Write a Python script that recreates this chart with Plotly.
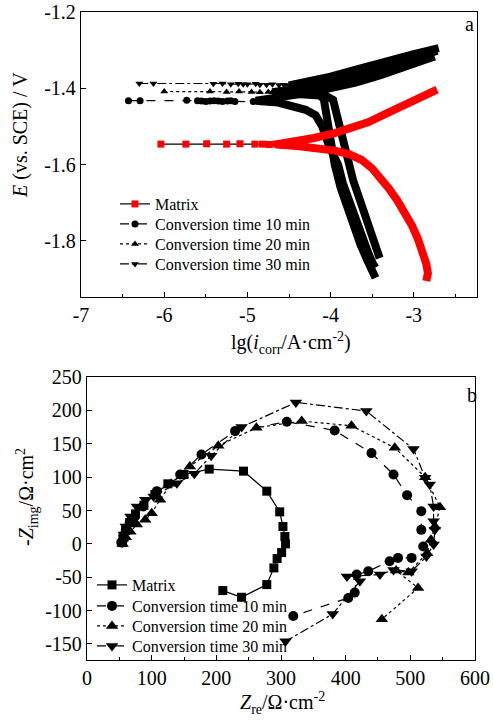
import plotly.graph_objects as go

FONT = "Liberation Serif, Times New Roman, serif"

# ---------------- Panel a : polarisation (Tafel) curves ----------------
# Matrix
m_sp_lg = [-6.04, -5.74, -5.49, -5.25, -5.09, -4.91, -4.82, -4.74, -4.66]
m_sp_E = [-1.546, -1.546, -1.545, -1.546, -1.545, -1.546, -1.546, -1.547, -1.546]
m_an_lg = [-4.66, -4.45, -4.2, -3.95, -3.75, -3.55, -3.37, -3.2, -3.05, -2.92, -2.81, -2.72]
m_an_E = [-1.546, -1.540, -1.530, -1.517, -1.505, -1.489, -1.470, -1.454, -1.439, -1.425, -1.412, -1.403]
m_ca_lg = [-4.66, -4.4, -4.15, -3.95, -3.78, -3.63, -3.5, -3.4, -3.3, -3.2, -3.1, -3.02, -2.95, -2.89, -2.85, -2.83, -2.85]
m_ca_E = [-1.547, -1.551, -1.556, -1.563, -1.572, -1.587, -1.610, -1.635, -1.662, -1.693, -1.727, -1.760, -1.795, -1.830, -1.860, -1.885, -1.905]

# Conversion time 10 min
c10_sp_lg = [-6.43, -6.29, -5.73, -5.60, -5.55, -5.50, -5.45, -5.40, -5.35, -5.30, -5.24, -5.20, -5.15, -4.93, -4.83, -4.73, -4.63]
c10_sp_E = [-1.432, -1.432, -1.431, -1.432, -1.433, -1.434, -1.433, -1.432, -1.433, -1.434, -1.433, -1.432, -1.434, -1.434, -1.435, -1.436, -1.437]
c10_an_lg = [-4.9, -4.6, -4.3, -4.0, -3.7, -3.4, -3.1, -2.9, -2.75]
c10_an_E = [-1.432, -1.424, -1.413, -1.399, -1.385, -1.365, -1.343, -1.328, -1.316]
c10_ca_lg = [-4.63, -4.45, -4.3, -4.18, -4.1, -4.02, -3.96, -3.91, -3.85, -3.77, -3.69, -3.62, -3.55, -3.49, -3.46]
c10_ca_E = [-1.437, -1.446, -1.456, -1.470, -1.50, -1.55, -1.58, -1.60, -1.65, -1.70, -1.75, -1.79, -1.83, -1.86, -1.87]

# Conversion time 20 min
c20_sp_lg = [-6.0, -5.45, -5.25, -5.1, -4.95, -4.85, -4.75, -4.7]
c20_sp_E = [-1.408, -1.408, -1.409, -1.408, -1.409, -1.410, -1.409, -1.410]
c20_an_lg = [-4.7, -4.4, -4.1, -3.8, -3.5, -3.25, -3.0, -2.85, -2.72]
c20_an_E = [-1.410, -1.401, -1.391, -1.375, -1.357, -1.339, -1.322, -1.311, -1.301]
c20_ca_lg = [-4.7, -4.3, -4.05, -3.97, -3.89, -3.81, -3.73, -3.64, -3.54, -3.46, -3.41]
c20_ca_E = [-1.410, -1.415, -1.420, -1.43, -1.50, -1.57, -1.64, -1.70, -1.76, -1.815, -1.845]

# Conversion time 30 min
c30_sp_lg = [-6.30, -6.13, -5.41, -5.30, -5.20, -5.11, -5.05, -5.00, -4.90, -4.85, -4.77, -4.70, -4.62, -4.56, -4.50]
c30_sp_E = [-1.387, -1.387, -1.388, -1.387, -1.389, -1.388, -1.389, -1.389, -1.388, -1.390, -1.390, -1.389, -1.391, -1.390, -1.392]
c30_an_lg = [-4.5, -4.2, -4.0, -3.75, -3.5, -3.25, -3.0, -2.85, -2.70]
c30_an_E = [-1.391, -1.380, -1.369, -1.354, -1.338, -1.322, -1.310, -1.302, -1.294]
c30_ca_lg = [-4.5, -4.3, -4.15, -4.08, -4.04, -4.0, -3.95, -3.88, -3.80, -3.72, -3.64, -3.56, -3.49, -3.46]
c30_ca_E = [-1.392, -1.398, -1.408, -1.43, -1.48, -1.54, -1.60, -1.66, -1.71, -1.76, -1.81, -1.85, -1.88, -1.897]

a_xticks = [-7, -6, -5, -4, -3]
a_xlabels = ["-7", "-6", "-5", "-4", "-3"]
a_yticks = [-1.2, -1.4, -1.6, -1.8]
a_ylabels = ["-1.2", "-1.4", "-1.6", "-1.8"]

# ---------------- Panel b : Nyquist plots ----------------
mat_zre = [55, 57, 60, 66, 75, 88, 105, 125, 150, 189, 242, 278, 298, 303, 306, 307, 301, 294, 289, 278, 239, 210]
mat_zim = [2, 10, 20, 32, 45, 58, 74, 90, 104, 112, 109, 79, 48, 26, 11, 0, -13, -22, -36, -61, -80, -70]
t10_zre = [53, 56, 60, 66, 74, 87, 108, 144, 177, 229, 309, 383, 440, 474, 495, 517, 517, 520, 502, 481, 468, 435, 417, 414, 404, 319]
t10_zim = [2, 12, 22, 32, 41, 56, 79, 104, 134, 169, 183, 170, 136, 104, 73, 49, 21, -4, -21, -21, -26, -41, -46, -73, -81, -108]
t20_zre = [55, 60, 67, 77, 90, 100, 113, 130, 159, 203, 262, 332, 409, 476, 523, 546, 538, 532, 526, 497, 478, 512, 456]
t20_zim = [0, 10, 18, 29, 36, 46, 66, 90, 116, 147, 174, 184, 177, 144, 100, 55, 26, 6, -14, -43, -40, -66, -113]
t30_zre = [55, 57, 60, 67, 77, 90, 103, 139, 166, 192, 239, 323, 432, 505, 523, 530, 536, 536, 538, 536, 525, 502, 474, 453, 402, 422, 380, 307]
t30_zim = [2, 14, 26, 41, 56, 66, 71, 91, 105, 132, 175, 212, 199, 142, 99, 89, 56, 34, 21, -1, -19, -41, -39, -46, -49, -56, -105, -146]

b_yticks = [-150, -100, -50, 0, 50, 100, 150, 200, 250]
b_ylabels = ["-150", "-100", "-50", "0", "50", "100", "150", "200", "250"]

series_a = [
    ("Matrix", m_sp_lg, m_sp_E, m_an_lg, m_an_E, m_ca_lg, m_ca_E, "square", "red", "solid"),
    ("Conversion time 10 min", c10_sp_lg, c10_sp_E, c10_an_lg, c10_an_E, c10_ca_lg, c10_ca_E, "circle", "black", "dash"),
    ("Conversion time 20 min", c20_sp_lg, c20_sp_E, c20_an_lg, c20_an_E, c20_ca_lg, c20_ca_E, "triangle-up", "black", "dot"),
    ("Conversion time 30 min", c30_sp_lg, c30_sp_E, c30_an_lg, c30_an_E, c30_ca_lg, c30_ca_E, "triangle-down", "black", "dashdot"),
]

# page body margin is removed (see write_html below), so positions are page pixels
W, H = 493, 720
def px(v):
    return v / W
def py(v):
    return 1 - v / H

fig = go.Figure()

# thick dense branches: black first, red on top
for s in series_a[1:] + series_a[:1]:
    name, sx, sy, ax_, ay_, cx_, cy_, sym, col, dash = s
    bx = list(reversed(cx_)) + list(ax_)
    by = list(reversed(cy_)) + list(ay_)
    fig.add_trace(go.Scatter(x=bx, y=by, mode="lines", line=dict(color=col, width=8),
                             showlegend=False, hoverinfo="skip", xaxis="x", yaxis="y"))

legend_font = dict(family=FONT, size=16, color="black")
legend_layout = {}
top_centres = [204, 224, 244, 264]
for i, s in enumerate(series_a):
    name, sx, sy, ax_, ay_, cx_, cy_, sym, col, dash = s
    lg_id = "legend" if i == 0 else "legend%d" % (i + 1)
    fig.add_trace(go.Scatter(x=sx, y=sy, mode="lines+markers", name=name,
                             line=dict(color="black", width=1.2, dash=dash),
                             marker=dict(symbol=sym, size=7, color=col, line=dict(width=0)),
                             xaxis="x", yaxis="y", legend=lg_id))
    legend_layout[lg_id] = dict(x=px(115), y=py(top_centres[i] - 17), xanchor="left", yanchor="top",
                                bgcolor="rgba(0,0,0,0)", borderwidth=0, font=legend_font)

series_b = [
    ("Matrix", mat_zre, mat_zim, "square", "solid", 9),
    ("Conversion time 10 min", t10_zre, t10_zim, "circle", "dash", 10),
    ("Conversion time 20 min", t20_zre, t20_zim, "triangle-up", "dot", 11),
    ("Conversion time 30 min", t30_zre, t30_zim, "triangle-down", "dashdot", 11),
]
bot_centres = [585, 606, 626, 646]
for i, (name, zx, zy, sym, dash, ms) in enumerate(series_b):
    lg_id = "legend%d" % (i + 5)
    fig.add_trace(go.Scatter(x=zx, y=zy, mode="lines+markers", name=name,
                             line=dict(color="black", width=1.2, dash=dash),
                             marker=dict(symbol=sym, size=ms, color="black", line=dict(width=0)),
                             xaxis="x2", yaxis="y2", legend=lg_id))
    legend_layout[lg_id] = dict(x=px(92), y=py(bot_centres[i] - 17), xanchor="left", yanchor="top",
                                bgcolor="rgba(0,0,0,0)", borderwidth=0, font=legend_font)

axis_common = dict(showline=True, mirror=True, linecolor="black", linewidth=1.3,
                   ticks="inside", ticklen=5, tickwidth=1.2, tickcolor="black",
                   showgrid=False, zeroline=False, automargin=False,
                   ticklabeloverflow="allow",
                   tickfont=dict(family=FONT, size=20, color="black"))

fig.update_layout(
    width=W, height=H, margin=dict(l=0, r=0, t=0, b=0, autoexpand=False),
    paper_bgcolor="white", plot_bgcolor="white",
    font=dict(family=FONT, color="black"),
    xaxis=dict(domain=[px(81), px(477)], range=[-7.0005, -2.24], anchor="y",
               tickmode="array", tickvals=a_xticks, ticktext=a_xlabels,
               minor=dict(ticks="inside", ticklen=3, dtick=0.5, tick0=-7, tickcolor="black"),
               **axis_common),
    yaxis=dict(domain=[py(297), py(12)], range=[-1.947, -1.1995], anchor="x",
               tickmode="array", tickvals=a_yticks, ticktext=a_ylabels, **axis_common),
    xaxis2=dict(domain=[px(87), px(475)], range=[-0.05, 600.05], anchor="y2",
                dtick=100, tick0=0,
                minor=dict(ticks="inside", ticklen=3, dtick=50, tick0=0, tickcolor="black"),
                **axis_common),
    yaxis2=dict(domain=[py(660), py(377)], range=[-174, 250.05], anchor="x2",
                tickmode="array", tickvals=b_yticks, ticktext=b_ylabels, **axis_common),
    **legend_layout,
)

ann = [
    dict(text="a", x=px(469), y=py(24)),
    dict(text="b", x=px(472), y=py(395)),
    dict(text="lg(<i>i</i><sub>corr</sub>/A·cm<sup>-2</sup>)", x=px(291), y=py(343)),
    dict(text="<i>Z</i><sub>re</sub>/Ω·cm<sup>-2</sup>", x=px(282), y=py(703)),
    dict(text="<i>E</i> (vs. SCE) / V", x=px(20), y=py(135), textangle=-90),
    dict(text="-<i>Z</i><sub>img</sub>/Ω·cm<sup>2</sup>", x=px(27), y=py(497), textangle=-90),
]
for a in ann:
    fig.add_annotation(xref="paper", yref="paper", showarrow=False,
                       xanchor="center", yanchor="middle",
                       font=dict(family=FONT, size=20, color="black"), **a)

fig.write_html("out.html",
               config={"displayModeBar": False},
               post_script="document.body.style.margin='0';document.body.style.overflow='hidden';")
